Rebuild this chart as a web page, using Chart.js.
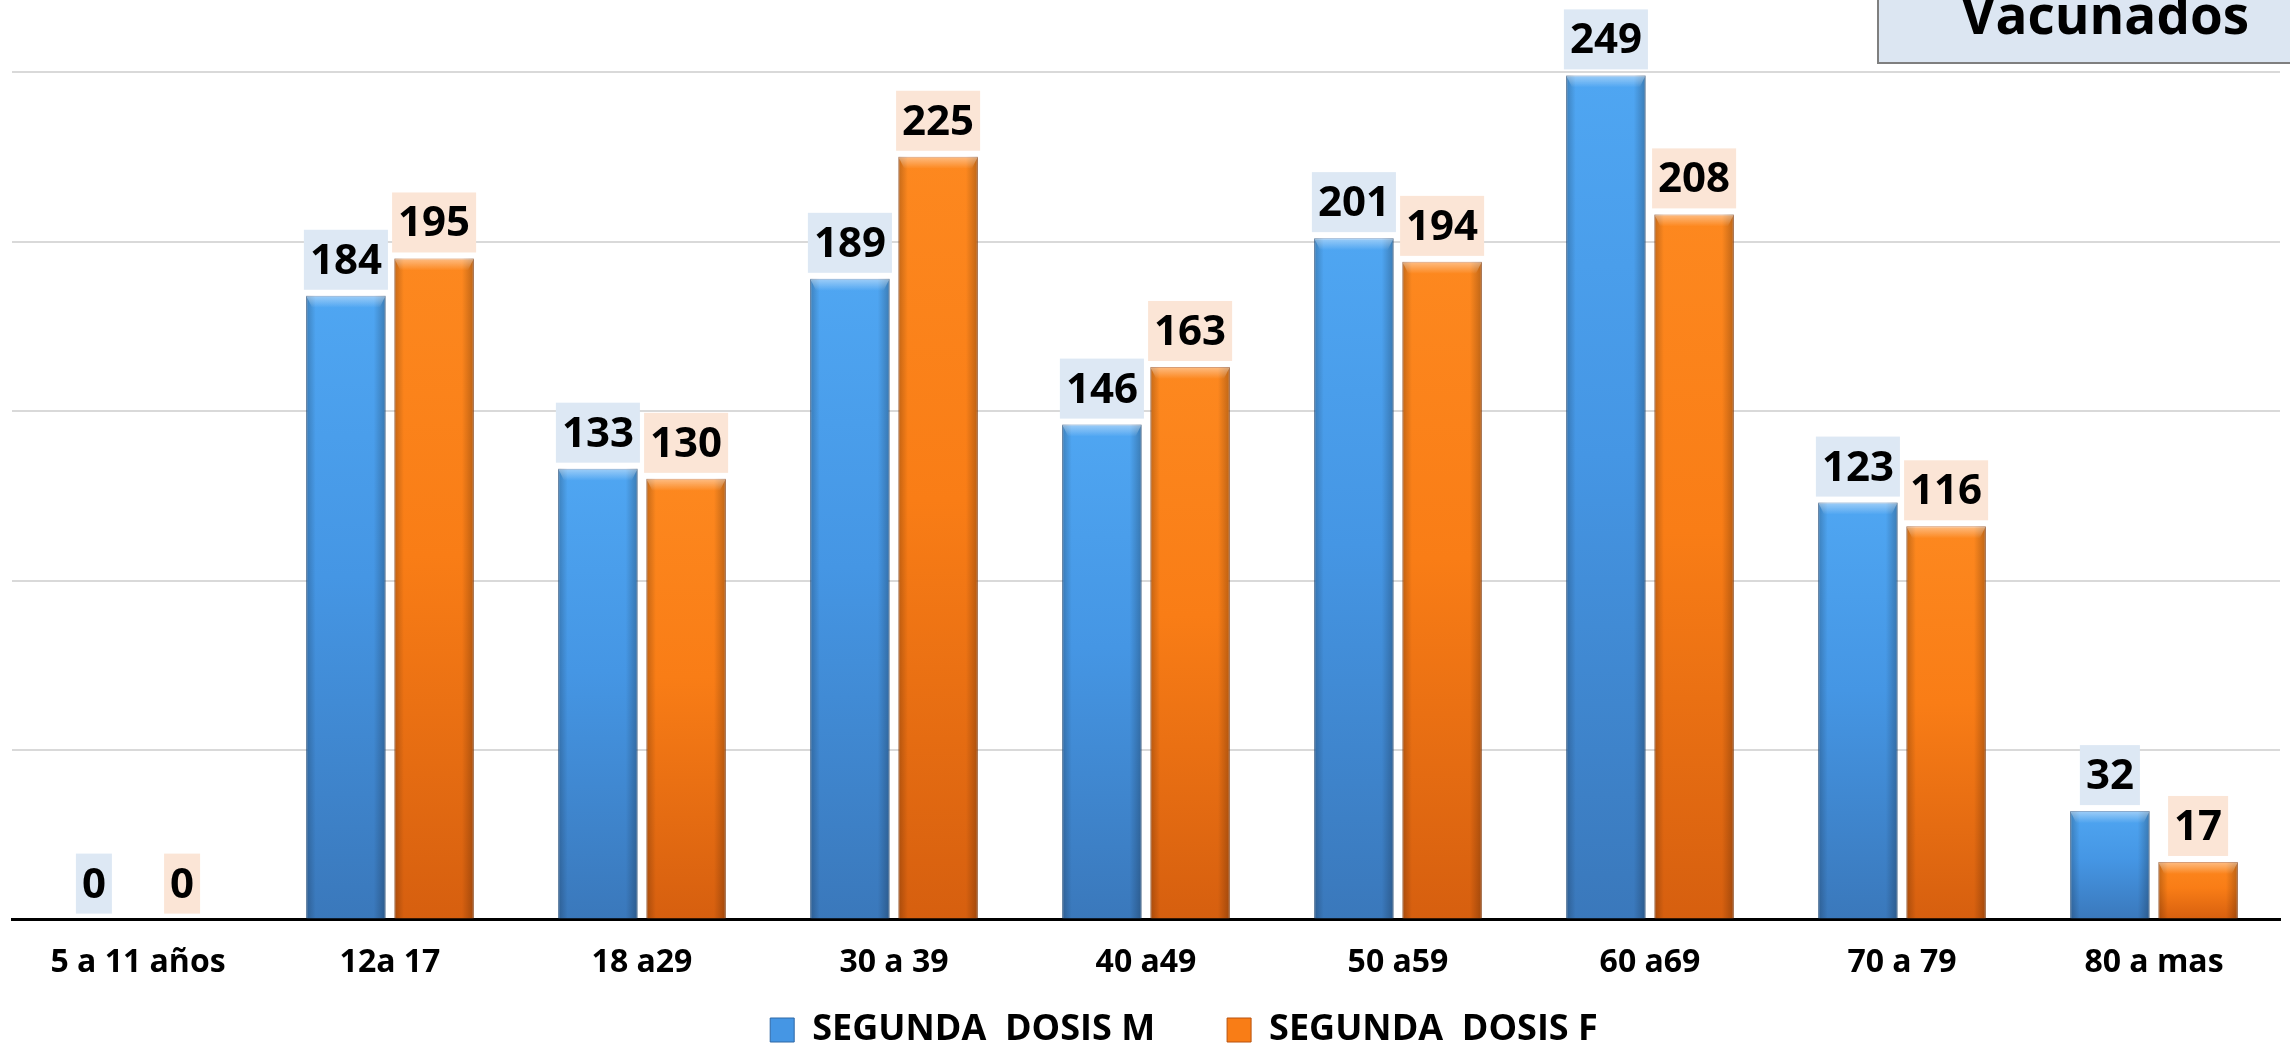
<!DOCTYPE html>
<html>
<head>
<meta charset="utf-8">
<script src="https://cdn.jsdelivr.net/npm/chart.js@4.4.1/dist/chart.umd.min.js"></script>
<style>
html,body{margin:0;padding:0;background:#fff;overflow:hidden}
#wrap{position:relative;width:2290px;height:1049px;overflow:hidden}
#ch{position:absolute;left:0;top:0}
#title-box{position:absolute;left:1877px;top:-40px;width:430px;height:100px;background:#dce6f2;border:2px solid #7f7f7f}
#title-txt{position:absolute;left:1961px;top:-12px;font:bold 53px 'Open Sans';line-height:52px;color:#000}
</style>
</head>
<body>
<div id="wrap">
  <canvas id="ch" width="2290" height="1049"></canvas>
  <div id="title-box"></div>
  <div id="title-txt">Vacunados</div>
</div>
<script>
/* ---------- Datos ---------- */
const categories=['5 a 11 años','12a 17','18 a29','30 a 39','40 a49','50 a59','60 a69','70 a 79','80 a mas'];
const dosisM=[0,184,133,189,146,201,249,123,32];
const dosisF=[0,195,130,225,163,194,208,116,17];
const seriesNames=['SEGUNDA  DOSIS M','SEGUNDA  DOSIS F'];
const yMax=250, yStep=50;

/* ---------- Colores ---------- */
const COL={
  m:{solid:'#4596e4',top:'#4fa6f2',bot:'#3a78bb',edge:'#2f68a6',box:'#dde8f4'},
  f:{solid:'#f97d16',top:'#fd881f',bot:'#d65f0f',edge:'#b9530f',box:'#fbe5d6'}
};

function barFill(key){
  return c=>{
    const p=COL[key];
    if(c.type!=='data')return p.solid;
    const ys=c.chart.scales.y;
    if(!ys)return p.solid;
    const y0=ys.getPixelForValue(0),y1=ys.getPixelForValue(c.raw);
    if(!isFinite(y0)||!isFinite(y1)||y1>=y0)return p.solid;
    const g=c.chart.ctx.createLinearGradient(0,y1,0,y0);
    g.addColorStop(0,p.top);g.addColorStop(0.45,p.solid);g.addColorStop(1,p.bot);
    return g;
  };
}

/* ---------- Plugins ---------- */
const barShade={
  id:'barShade',
  afterDatasetsDraw(chart){
    const ctx=chart.ctx;
    chart.data.datasets.forEach((ds,di)=>{
      chart.getDatasetMeta(di).data.forEach(el=>{
        const {x,y,base,width}=el.getProps(['x','y','base','width'],true);
        if(base-y<1)return;
        const l=x-width/2;
        ctx.save();
        const h=ctx.createLinearGradient(l,0,l+width,0);
        h.addColorStop(0,'rgba(0,0,0,.22)');h.addColorStop(.12,'rgba(0,0,0,0)');
        h.addColorStop(.85,'rgba(0,0,0,0)');h.addColorStop(1,'rgba(0,0,0,.25)');
        ctx.fillStyle=h;ctx.fillRect(l,y,width,base-y);
        const t=ctx.createLinearGradient(0,y,0,y+12);
        t.addColorStop(0,'rgba(255,255,255,.45)');t.addColorStop(1,'rgba(255,255,255,0)');
        ctx.fillStyle=t;
        ctx.beginPath();ctx.moveTo(l,y);ctx.lineTo(l+width,y);ctx.lineTo(l+width-6,y+12);ctx.lineTo(l+6,y+12);ctx.closePath();ctx.fill();
        ctx.restore();
      });
    });
  }
};

const valueLabels={
  id:'valueLabels',
  afterDatasetsDraw(chart){
    const ctx=chart.ctx;
    ctx.save();
    ctx.font="bold 42px 'Open Sans'";
    ctx.textAlign='center';ctx.textBaseline='middle';
    chart.data.datasets.forEach((ds,di)=>{
      const key=di===0?'m':'f';
      chart.getDatasetMeta(di).data.forEach((el,i)=>{
        const {x,y}=el.getProps(['x','y'],true);
        const txt=String(ds.data[i]);
        const w=ctx.measureText(txt).width+12,h=60;
        const bottom=y-6;
        ctx.fillStyle=COL[key].box;
        ctx.fillRect(x-w/2,bottom-h,w,h);
        ctx.fillStyle='#000';
        ctx.fillText(txt,x,bottom-h/2+2);
      });
    });
    ctx.restore();
  }
};

// coloca la leyenda como en el original (espaciado ancho, centrada algo a la derecha)
const legendPlace={
  id:'legendPlace',
  afterLayout(chart){
    const lg=chart.legend;if(!lg)return;
    lg.left+=38;lg.right+=38;
    lg.top=1030-18-lg.options.labels.padding;
  }
};

/* ---------- Gráfico ---------- */
new Chart(document.getElementById('ch'),{
  type:'bar',
  data:{labels:categories,datasets:[
    {label:seriesNames[0],data:dosisM,backgroundColor:barFill('m'),borderColor:COL.m.edge,borderWidth:1,categoryPercentage:0.7,barPercentage:0.9},
    {label:seriesNames[1],data:dosisF,backgroundColor:barFill('f'),borderColor:COL.f.edge,borderWidth:1,categoryPercentage:0.7,barPercentage:0.9}
  ]},
  options:{
    responsive:false,animation:false,
    layout:{padding:{left:12,right:10,top:72,bottom:0}},
    plugins:{
      legend:{position:'bottom',maxHeight:43,labels:{color:'#000',font:{family:'Open Sans',size:36,weight:'bold'},boxWidth:24,boxHeight:24,padding:72}},
      tooltip:{enabled:false}
    },
    scales:{
      x:{grid:{display:false,drawTicks:false},border:{display:true,color:'#000',width:3},
         ticks:{color:'#000',font:{family:'Open Sans',size:32,weight:'bold'},padding:24,maxRotation:0,autoSkip:false}},
      y:{min:0,max:yMax,ticks:{display:false,stepSize:yStep},border:{display:false},
         grid:{drawTicks:false,lineWidth:2,color:c=>c.tick&&c.tick.value===0?'rgba(0,0,0,0)':'#d9d9d9'}}
    }
  },
  plugins:[barShade,valueLabels,legendPlace]
});
</script>
</body>
</html>
